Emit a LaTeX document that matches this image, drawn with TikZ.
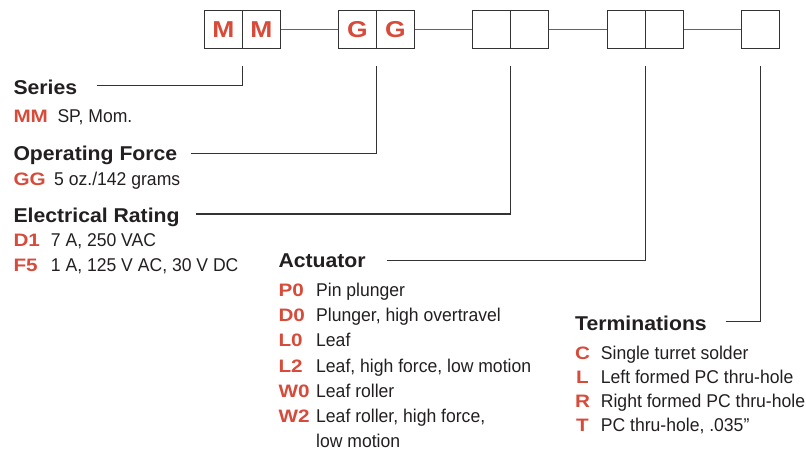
\documentclass[tikz,border=0pt]{standalone}
\usepackage{fontspec}
\setmainfont{Liberation Sans}
\newfontfamily\headfont[FakeStretch=1.06]{Liberation Sans}
\newfontfamily\codefont[FakeStretch=1.15]{Liberation Sans}
\newfontfamily\descfont[FakeStretch=0.95]{Liberation Sans}
\definecolor{codered}{RGB}{214,75,58}
\definecolor{txtblack}{RGB}{35,31,32}
\definecolor{boxgray}{RGB}{51,51,51}
\definecolor{joingray}{RGB}{100,100,100}
\tikzset{
  head/.style={font=\headfont\bfseries\fontsize{20}{24}\selectfont, text=txtblack, inner sep=0pt, anchor=base west},
  code/.style={font=\codefont\bfseries\fontsize{18}{22}\selectfont, text=codered, inner sep=0pt, anchor=base west},
  desc/.style={font=\descfont\fontsize{18.5}{22}\selectfont, text=txtblack, inner sep=0pt, anchor=base west},
  cell/.style={draw=boxgray, line width=1.3pt, minimum width=38pt, minimum height=38pt, inner sep=0pt,
    font=\codefont\bfseries\fontsize{23}{27}\selectfont, text=codered},
  groupjoin/.style={draw=joingray, line width=1.2pt},
  leader/.style={draw=boxgray, line width=1.2pt},
}
\begin{document}
\begin{tikzpicture}[x=1pt, y=-1pt]
    \useasboundingbox (0,0) rectangle (806,452);

    % Part number boxes
    \node[cell] (mmA) at (223.3,29.2) {M};
    \node[cell] (mmB) at (261.3,29.2) {M};
    \node[cell] (ggA) at (357.3,29.2) {G};
    \node[cell] (ggB) at (395.3,29.2) {G};
    \node[cell] (erA) at (491.7,29.2) {};
    \node[cell] (erB) at (529.7,29.2) {};
    \node[cell] (acA) at (626.3,29.2) {};
    \node[cell] (acB) at (664.3,29.2) {};
    \node[cell] (tmA) at (760.4,29.2) {};

    % Joins between the groups
    \draw[groupjoin] (mmB.east) -- (ggA.west);
    \draw[groupjoin] (ggB.east) -- (erA.west);
    \draw[groupjoin] (erB.east) -- (acA.west);
    \draw[groupjoin] (acB.east) -- (tmA.west);

    % Series
    \node[head] (series) at (13.3,95) {Series};
    \node[code] (seriesMM) at (13.3,122) {MM};
    \node[desc] (seriesMMd) at (57.3,122) {SP, Mom.};

    % Operating force
    \node[head] (force) at (13.3,160.5) {Operating Force};
    \node[code] (forceGG) at (13.3,185) {GG};
    \node[desc] (forceGGd) at (54,185) {5 oz./142 grams};

    % Electrical rating
    \node[head] (rating) at (13.3,222.5) {Electrical Rating};
    \node[code] (ratingD1) at (13.3,246.5) {D1};
    \node[desc] (ratingD1d) at (50.7,246.5) {7 A, 250 VAC};
    \node[code] (ratingF5) at (13.3,271) {F5};
    \node[desc] (ratingF5d) at (50.7,271) {1 A, 125 V AC, 30 V DC};

    % Actuator
    \node[head] (actuator) at (278.3,267.3) {Actuator};
    \node[code] (actP0) at (278.3,296.5) {P0};
    \node[desc] (actP0d) at (316,296.5) {Pin plunger};
    \node[code] (actD0) at (278.3,321.7) {D0};
    \node[desc] (actD0d) at (316,321.7) {Plunger, high overtravel};
    \node[code] (actL0) at (278.3,346.9) {L0};
    \node[desc] (actL0d) at (316,346.9) {Leaf};
    \node[code] (actL2) at (278.3,372.1) {L2};
    \node[desc] (actL2d) at (316,372.1) {Leaf, high force, low motion};
    \node[code] (actW0) at (278.3,397.3) {W0};
    \node[desc] (actW0d) at (316,397.3) {Leaf roller};
    \node[code] (actW2) at (278.3,422.5) {W2};
    \node[desc] (actW2d) at (316,422.5) {Leaf roller, high force,};
    \node[desc] (actW2e) at (316,447.7) {low motion};

    % Terminations
    \node[head] (term) at (575,330) {Terminations};
    \node[code, anchor=base] (termC) at (582.5,359) {C};
    \node[desc] (termCd) at (600.7,359) {Single turret solder};
    \node[code, anchor=base] (termL) at (582.5,383.3) {L};
    \node[desc] (termLd) at (600.7,383.3) {Left formed PC thru-hole};
    \node[code, anchor=base] (termR) at (582.5,407.6) {R};
    \node[desc] (termRd) at (600.7,407.6) {Right formed PC thru-hole};
    \node[code, anchor=base] (termT) at (582.5,431.9) {T};
    \node[desc] (termTd) at (600.7,431.9) {PC thru-hole, .035”};

    % Leader lines up to the boxes
    \coordinate (seriesL) at (97.3,85.7);
    \coordinate (seriesT) at (242.3,66);
    \coordinate (forceL) at (191,153.3);
    \coordinate (forceT) at (376.5,66);
    \coordinate (ratingL) at (196,214);
    \coordinate (ratingT) at (510.8,66);
    \coordinate (actL) at (386.7,260.7);
    \coordinate (actT) at (645.4,66);
    \coordinate (termLL) at (725.7,321.7);
    \coordinate (termTT) at (760.5,66);
    \draw[leader] (seriesL) -| (seriesT);
    \draw[leader] (forceL) -| (forceT);
    \draw[leader] (ratingL) -| (ratingT);
    \draw[leader] (actL) -| (actT);
    \draw[leader] (termLL) -| (termTT);
\end{tikzpicture}
\end{document}
